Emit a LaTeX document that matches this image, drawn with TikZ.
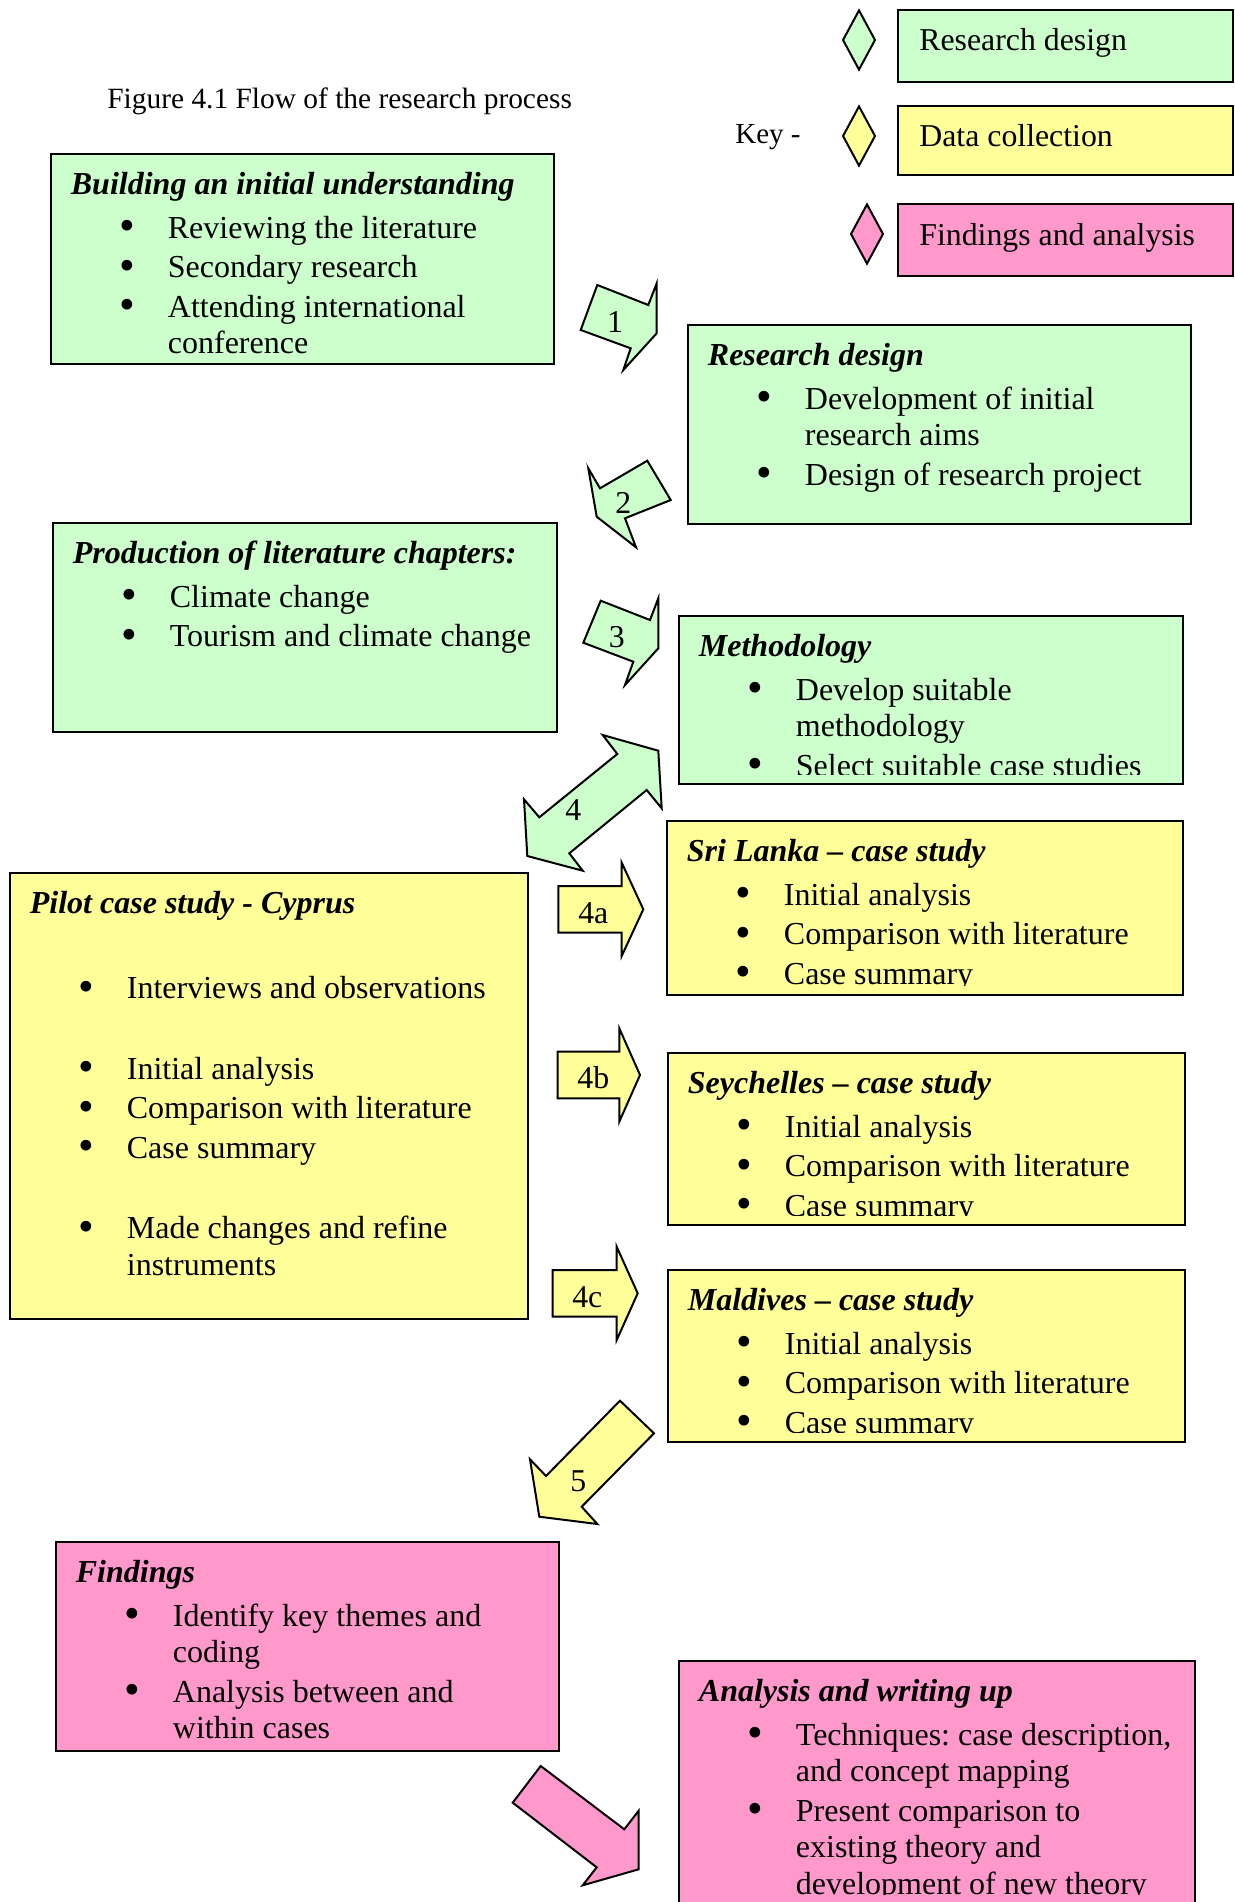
\documentclass[tikz,border=0pt]{standalone}
\usepackage{fontspec}
\setmainfont{Liberation Serif}
\usetikzlibrary{fit, shapes.geometric}

\definecolor{rdgreen}{HTML}{CCFFCC}
\definecolor{dcyellow}{HTML}{FFFF99}
\definecolor{fapink}{HTML}{FF99CC}

\tikzset{
  stage/.style={draw, line width=1pt, inner sep=0pt},
  stagetext/.style={anchor=base west, inner sep=0pt},
  blockarrow/.style={draw, line width=1pt, line join=miter},
  arrowlab/.style={inner sep=0pt, font=\fontsize{15.9}{18.2}\selectfont},
  keymark/.style={diamond, draw, line width=1pt, inner sep=0pt, minimum width=16.4pt, minimum height=30pt},
  keybox/.style={draw, line width=1pt, inner sep=0pt},
  keytext/.style={anchor=base west, inner sep=0pt, font=\fontsize{15.9}{18.2}\selectfont},
}

% title line and bullet items inside a stage box
\newcommand{\ttl}[1]{\textbf{\textit{#1}}\par\vspace{2.5pt}}
\newcommand{\blt}{\raisebox{-1.2pt}{\scalebox{1.4}{\textbullet}}}
\newcommand{\itm}{\par\noindent\hangindent=48.5pt\hspace*{28pt}\makebox[0pt]{\blt}\hspace*{20.5pt}}
\newcommand{\gap}{\par\vspace{20.6pt}}
% [#1 bottom margin], #2 name, #3 fill, #4 top left, #5 bottom right, #6 contents
\newcommand{\stage}[6][2pt]{%
  \node[stage, fill=#3, fit={(#4) (#5)}] (#2) {};
  \begin{scope}
    \clip ([yshift=#1]#2.south west) rectangle (#2.north east);
    \node[stagetext] (#2-list) at ([shift={(20.5,41)}]#2.north west)
      {\parbox[t]{400pt}{\fontsize{16}{18.2}\selectfont\frenchspacing\parskip=1.5pt #6}};
  \end{scope}}

\begin{document}
\begin{tikzpicture}[x=0.5pt, y=-0.5pt]
\useasboundingbox (0,0) rectangle (1235,1902);
\clip (0,0) rectangle (1235,1902);

% caption and key
\node[anchor=base west, inner sep=0pt, font=\fontsize{14.7}{17}\selectfont] (caption) at (107,108.5) {Figure 4.1 Flow of the research process};
\node[anchor=base west, inner sep=0pt, font=\fontsize{14.5}{17}\selectfont] (keylabel) at (735,143.5) {Key -};
\node[keymark, fill=rdgreen] (mark1) at (859,40) {};
\node[keymark, fill=dcyellow] (mark2) at (859,136) {};
\node[keymark, fill=fapink] (mark3) at (867,234) {};
\node[keybox, fill=rdgreen, fit={(898,10) (1233,82)}] (key1) {};
\node[keybox, fill=dcyellow, fit={(898,106) (1233,175)}] (key2) {};
\node[keybox, fill=fapink, fit={(898,204) (1233,276)}] (key3) {};
\node[keytext] (keytext1) at (919,50.7) {Research design};
\node[keytext] (keytext2) at (919,146.7) {Data collection};
\node[keytext] (keytext3) at (919,245) {Findings and analysis};

% stages
\stage{build}{rdgreen}{51,154}{554,364}{\ttl{Building an initial understanding}
  \itm Reviewing the literature
  \itm Secondary research
  \itm Attending international\newline conference}
\stage{design}{rdgreen}{688,325}{1191,524}{\ttl{Research design}
  \itm Development of initial\newline research aims
  \itm Design of research project}
\stage{litch}{rdgreen}{53,523}{557,732}{\ttl{Production of literature chapters:}
  \itm Climate change
  \itm Tourism and climate change}
\stage[5.5pt]{method}{rdgreen}{679,616}{1183,784}{\ttl{Methodology}
  \itm Develop suitable\newline methodology
  \itm Select suitable case studies}
\stage[5.5pt]{srilanka}{dcyellow}{667,821}{1183,995}{\ttl{Sri Lanka -- case study}
  \itm Initial analysis
  \itm Comparison with literature
  \itm Case summary}
\stage{cyprus}{dcyellow}{10,873}{528,1319}{\ttl{Pilot case study - Cyprus}\vspace{20.6pt}
  \itm Interviews and observations\gap
  \itm Initial analysis
  \itm Comparison with literature
  \itm Case summary\gap
  \itm Made changes and refine\newline instruments}
\stage[5.5pt]{seychelles}{dcyellow}{668,1053}{1185,1225}{\ttl{Seychelles -- case study}
  \itm Initial analysis
  \itm Comparison with literature
  \itm Case summary}
\stage[5.5pt]{maldives}{dcyellow}{668,1270}{1185,1442}{\ttl{Maldives -- case study}
  \itm Initial analysis
  \itm Comparison with literature
  \itm Case summary}
\stage{findings}{fapink}{56,1542}{559,1751}{\ttl{Findings}
  \itm Identify key themes and\newline coding
  \itm Analysis between and\newline within cases}
\stage[5.5pt]{analysis}{fapink}{679,1661}{1195,1904}{\ttl{Analysis and writing up}
  \itm Techniques: case description,\newline and concept mapping
  \itm Present comparison to\newline existing theory and\newline development of new theory}

% block arrows between the stages
\draw[blockarrow, fill=rdgreen] (597.3,285) -- (648.3,305) -- (656.7,283.3) -- (656.7,333.3) -- (623.3,370) -- (630.7,348.3) -- (580.7,330) -- cycle;
\node[arrowlab] (lab1) at (615,321.7) {1};
\draw[blockarrow, fill=rdgreen] (588.3,468.3) -- (600,488.3) -- (647.3,460.7) -- (670.7,500) -- (625,518.3) -- (636,547.3) -- (596.7,516.7) -- cycle;
\node[arrowlab] (lab2) at (623.3,503.3) {2};
\draw[blockarrow, fill=rdgreen] (600.7,600.7) -- (650,620) -- (658.3,598.3) -- (658.3,648.3) -- (625,685) -- (633.3,661.7) -- (583.3,642.7) -- cycle;
\node[arrowlab] (lab3) at (616.7,636.7) {3};
\draw[blockarrow, fill=rdgreen] (602.7,735) -- (658.3,750.7) -- (661.7,808.3) -- (646.7,790) -- (569.3,853.3) -- (582.7,870.7) -- (527.3,856) -- (524,799.3) -- (539.3,817.3) -- (617.3,754) -- cycle;
\node[arrowlab] (lab4) at (573.3,810) {4};
\draw[blockarrow, fill=dcyellow] (558.3,886) -- (621.7,886) -- (621.7,862.7) -- (643.3,909.3) -- (621.7,956) -- (621.7,932.7) -- (558.3,932.7) -- cycle;
\node[arrowlab] (lab4a) at (593.3,913) {4a};
\draw[blockarrow, fill=dcyellow] (557.7,1051.7) -- (619.3,1051.7) -- (619.3,1028.3) -- (640,1075) -- (619.3,1121.7) -- (619.3,1098.3) -- (557.7,1098.3) -- cycle;
\node[arrowlab] (lab4b) at (593.3,1078) {4b};
\draw[blockarrow, fill=dcyellow] (552.7,1270) -- (616.7,1270) -- (616.7,1246.7) -- (637.7,1293.3) -- (616.7,1340) -- (616.7,1316.7) -- (552.7,1316.7) -- cycle;
\node[arrowlab] (lab4c) at (587.3,1296.7) {4c};
\draw[blockarrow, fill=dcyellow] (620,1400.7) -- (654,1433.3) -- (581.7,1506.7) -- (597.3,1524) -- (539.3,1516.7) -- (530,1459.3) -- (546,1476) -- cycle;
\node[arrowlab] (lab5) at (578.3,1481.7) {5};
\draw[blockarrow, fill=fapink] (540.7,1766) -- (624.3,1829.3) -- (638.7,1810.7) -- (638.7,1869.3) -- (582.7,1885.3) -- (596.7,1867.3) -- (512.7,1802.7) -- cycle;
\end{tikzpicture}
\end{document}
